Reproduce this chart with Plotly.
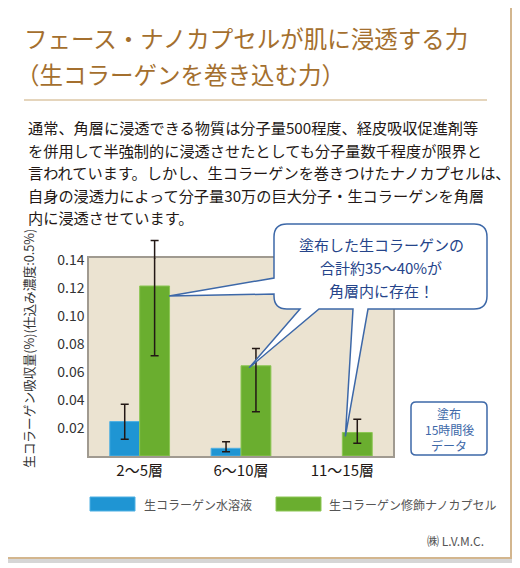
import plotly.graph_objects as go

# data
categories = ["2～5層", "6～10層", "11～15層"]
water_vals = [0.0246, 0.0055, None]
water_err_plus = [0.0123, 0.0046, None]
water_err_minus = [0.0126, 0.0025, None]
nano_vals = [0.1215, 0.0645, 0.0168]
nano_err_plus = [0.0325, 0.0123, 0.0094]
nano_err_minus = [0.0499, 0.0328, 0.0076]
y_ticks = [0.02, 0.04, 0.06, 0.08, 0.10, 0.12, 0.14]
series_names = ["生コラーゲン水溶液", "生コラーゲン修飾ナノカプセル"]

title_lines = ["フェース・ナノカプセルが肌に浸透する力", "（生コラーゲンを巻き込む力）"]
body_lines = [
    "通常、角層に浸透できる物質は分子量500程度、経皮吸収促進剤等",
    "を併用して半強制的に浸透させたとしても分子量数千程度が限界と",
    "言われています。しかし、生コラーゲンを巻きつけたナノカプセルは、",
    "自身の浸透力によって分子量30万の巨大分子・生コラーゲンを角層",
    "内に浸透させています。",
]
bubble_lines = ["塗布した生コラーゲンの", "合計約35～40%が", "角層内に存在！"]
note_lines = ["塗布", "15時間後", "データ"]

FONT = "Noto Sans CJK JP"
BLUE = "#1f95d3"
GREEN = "#6aae2f"
LINE_BLUE = "#3d68a8"
ERR_COL = "#231815"

# page has an 8px body margin, so the figure is drawn 8px smaller
PAGE_OFF = 8
W_FIG, H_FIG = 520 - PAGE_OFF, 568 - PAGE_OFF
# plot area in window pixels
L, R, T, B = 89, 393, 258, 456
Y_MAX = 0.1415
BARGAP = 0.41
BAR_W = (1 - BARGAP) / 2  # one bar, category units


def px(x):
    return (x - L) / (R - L)


def py(y):
    return (B - y) / (B - T)


def data_x(i, off):
    # category index + offset (category units) -> pixel
    return L + (i + 0.5 + off) / len(categories) * (R - L)


def data_y(v):
    return B - v / Y_MAX * (B - T)


fig = go.Figure()
fig.add_trace(go.Bar(
    x=categories, y=water_vals, name=series_names[0],
    marker=dict(color=BLUE, line=dict(color="#4fb0e3", width=1)),
    error_y=dict(type="data", symmetric=False, array=water_err_plus, arrayminus=water_err_minus,
                 color=ERR_COL, thickness=1.5, width=4),
))
fig.add_trace(go.Bar(
    x=categories, y=nano_vals, name=series_names[1],
    marker=dict(color=GREEN, line=dict(color="#8cc654", width=1)),
    error_y=dict(type="data", symmetric=False, array=nano_err_plus, arrayminus=nano_err_minus,
                 color=ERR_COL, thickness=1.5, width=4),
))

shapes = []
ann = []

# error bars that run past the top of the plot area are clipped by plotly: finish them above
for vals, errs, off in [(water_vals, water_err_plus, -BAR_W / 2), (nano_vals, nano_err_plus, BAR_W / 2)]:
    for i, (v, e) in enumerate(zip(vals, errs)):
        if v is None or v + e <= Y_MAX:
            continue
        cx = data_x(i, off)
        top = data_y(v + e)
        shapes.append(dict(type="line", xref="paper", yref="paper", x0=px(cx), x1=px(cx), y0=py(T + 1), y1=py(top),
                           line=dict(color=ERR_COL, width=1.5)))
        shapes.append(dict(type="line", xref="paper", yref="paper", x0=px(cx - 4), x1=px(cx + 4), y0=py(top), y1=py(top),
                           line=dict(color=ERR_COL, width=1.5)))

# outer frame with shadow
shapes.append(dict(type="rect", xref="paper", yref="paper", x0=px(512), x1=px(516), y0=py(6), y1=py(562),
                   line=dict(width=0), fillcolor="#d6d6d6", layer="below"))
shapes.append(dict(type="rect", xref="paper", yref="paper", x0=px(6), x1=px(516), y0=py(559), y1=py(563),
                   line=dict(width=0), fillcolor="#d6d6d6", layer="below"))
shapes.append(dict(type="rect", xref="paper", yref="paper", x0=px(1), x1=px(511), y0=py(1), y1=py(558),
                   line=dict(color="#d3b68e", width=2), fillcolor="rgba(0,0,0,0)", layer="below"))

# title
for k, t in enumerate(title_lines):
    ann.append(dict(text=t, x=px(22 if k == 0 else 14), y=py(38 + 36 * k), xanchor="left", yanchor="middle",
                    font=dict(size=23.5, color="#a46f2e", family=FONT)))
shapes.append(dict(type="line", xref="paper", yref="paper", x0=px(24), x1=px(487), y0=py(100), y1=py(100),
                   line=dict(color="#dcc7a6", width=1.5)))

# body text
for k, t in enumerate(body_lines):
    ann.append(dict(text=t, x=px(26), y=py(127 + 22.5 * k), xanchor="left", yanchor="middle",
                    font=dict(size=15.2, color="#231815", family=FONT)))

# y axis title (rotated)
ann.append(dict(text="生コラーゲン吸収量(%)(仕込み濃度:0.5%)", x=px(28), y=py(349), textangle=-90,
                xanchor="center", yanchor="middle", font=dict(size=12.7, color="#333333", family=FONT)))

# callout bubble with three pointers
tip1 = (data_x(0, 0.29), data_y(nano_vals[0]) + 10)
tip2 = (data_x(1, 0.08), data_y(nano_vals[1]) + 2)
tip3 = (data_x(2, 0.03), data_y(nano_vals[2]) + 4)
bx0, bx1, by0, by1, r = 274, 487, 224, 309, 13
pts = [
    ("M", (bx0 + r, by0)), ("L", (bx1 - r, by0)), ("Q", (bx1, by0), (bx1, by0 + r)),
    ("L", (bx1, by1 - r)), ("Q", (bx1, by1), (bx1 - r, by1)),
    ("L", (368, by1)), ("L", tip3), ("L", (353, by1)),
    ("L", (319, by1)), ("L", tip2), ("L", (300, by1)),
    ("L", (bx0 + r, by1)), ("Q", (bx0, by1), (bx0, by1 - r)),
    ("L", (bx0, 294)), ("L", tip1), ("L", (bx0, 278)),
    ("L", (bx0, by0 + r)), ("Q", (bx0, by0), (bx0 + r, by0)),
]
path = ""
for p in pts:
    path += p[0] + " " + " ".join("%.5f,%.5f" % (px(q[0]), py(q[1])) for q in p[1:]) + " "
path += "Z"
shapes.append(dict(type="path", xref="paper", yref="paper", path=path,
                   line=dict(color=LINE_BLUE, width=1.5), fillcolor="white"))
for k, t in enumerate(bubble_lines):
    ann.append(dict(text=t, x=px(381), y=py(244 + 23 * k), xanchor="center", yanchor="middle",
                    font=dict(size=15, color="#25448a", family=FONT)))

# note box
nx0, nx1, ny0, ny1, nr = 411, 487, 402, 455, 5
npts = [
    ("M", (nx0 + nr, ny0)), ("L", (nx1 - nr, ny0)), ("Q", (nx1, ny0), (nx1, ny0 + nr)),
    ("L", (nx1, ny1 - nr)), ("Q", (nx1, ny1), (nx1 - nr, ny1)),
    ("L", (nx0 + nr, ny1)), ("Q", (nx0, ny1), (nx0, ny1 - nr)),
    ("L", (nx0, ny0 + nr)), ("Q", (nx0, ny0), (nx0 + nr, ny0)),
]
npath = ""
for p in npts:
    npath += p[0] + " " + " ".join("%.5f,%.5f" % (px(q[0]), py(q[1])) for q in p[1:]) + " "
npath += "Z"
shapes.append(dict(type="path", xref="paper", yref="paper", path=npath,
                   line=dict(color=LINE_BLUE, width=1.5), fillcolor="white"))
for k, t in enumerate(note_lines):
    ann.append(dict(text=t, x=px(449), y=py(413 + 16 * k), xanchor="center", yanchor="middle",
                    font=dict(size=12, color="#3d68a8", family=FONT)))

# legend
for (sx, tx, col, edge, name) in [(90, 142, BLUE, "#4fb0e3", series_names[0]),
                                  (276, 327, GREEN, "#8cc654", series_names[1])]:
    shapes.append(dict(type="rect", xref="paper", yref="paper", x0=px(sx), x1=px(sx + 45), y0=py(497), y1=py(511),
                       line=dict(color=edge, width=1), fillcolor=col))
    ann.append(dict(text=name, x=px(tx), y=py(504), xanchor="left", yanchor="middle",
                    font=dict(size=12, color="#555555", family=FONT)))

# footer
ann.append(dict(text="㈱ L.V.M.C.", x=px(486), y=py(540), xanchor="right", yanchor="middle",
                font=dict(size=12, color="#555555", family=FONT)))

for a in ann:
    a.update(xref="paper", yref="paper", showarrow=False)

fig.update_layout(
    width=W_FIG, height=H_FIG,
    margin=dict(l=L - PAGE_OFF, r=520 - R, t=T - PAGE_OFF, b=568 - B, pad=0),
    paper_bgcolor="white", plot_bgcolor="#ebe3d1",
    barmode="group", bargap=BARGAP, bargroupgap=0,
    showlegend=False,
    font=dict(family=FONT, color="#231815"),
    shapes=shapes, annotations=ann,
    xaxis=dict(showline=True, linecolor="#a09a90", linewidth=1.5, mirror=True, ticks="",
               tickfont=dict(size=15, color="#231815"), showgrid=False),
    yaxis=dict(range=[0, Y_MAX], tickvals=y_ticks, tickformat=".2f", showline=True,
               linecolor="#a09a90", linewidth=1.5, mirror=True, showgrid=False, zeroline=False,
               ticks="", tickfont=dict(size=14, color="#333333")),
)

fig.write_html("out.html")
